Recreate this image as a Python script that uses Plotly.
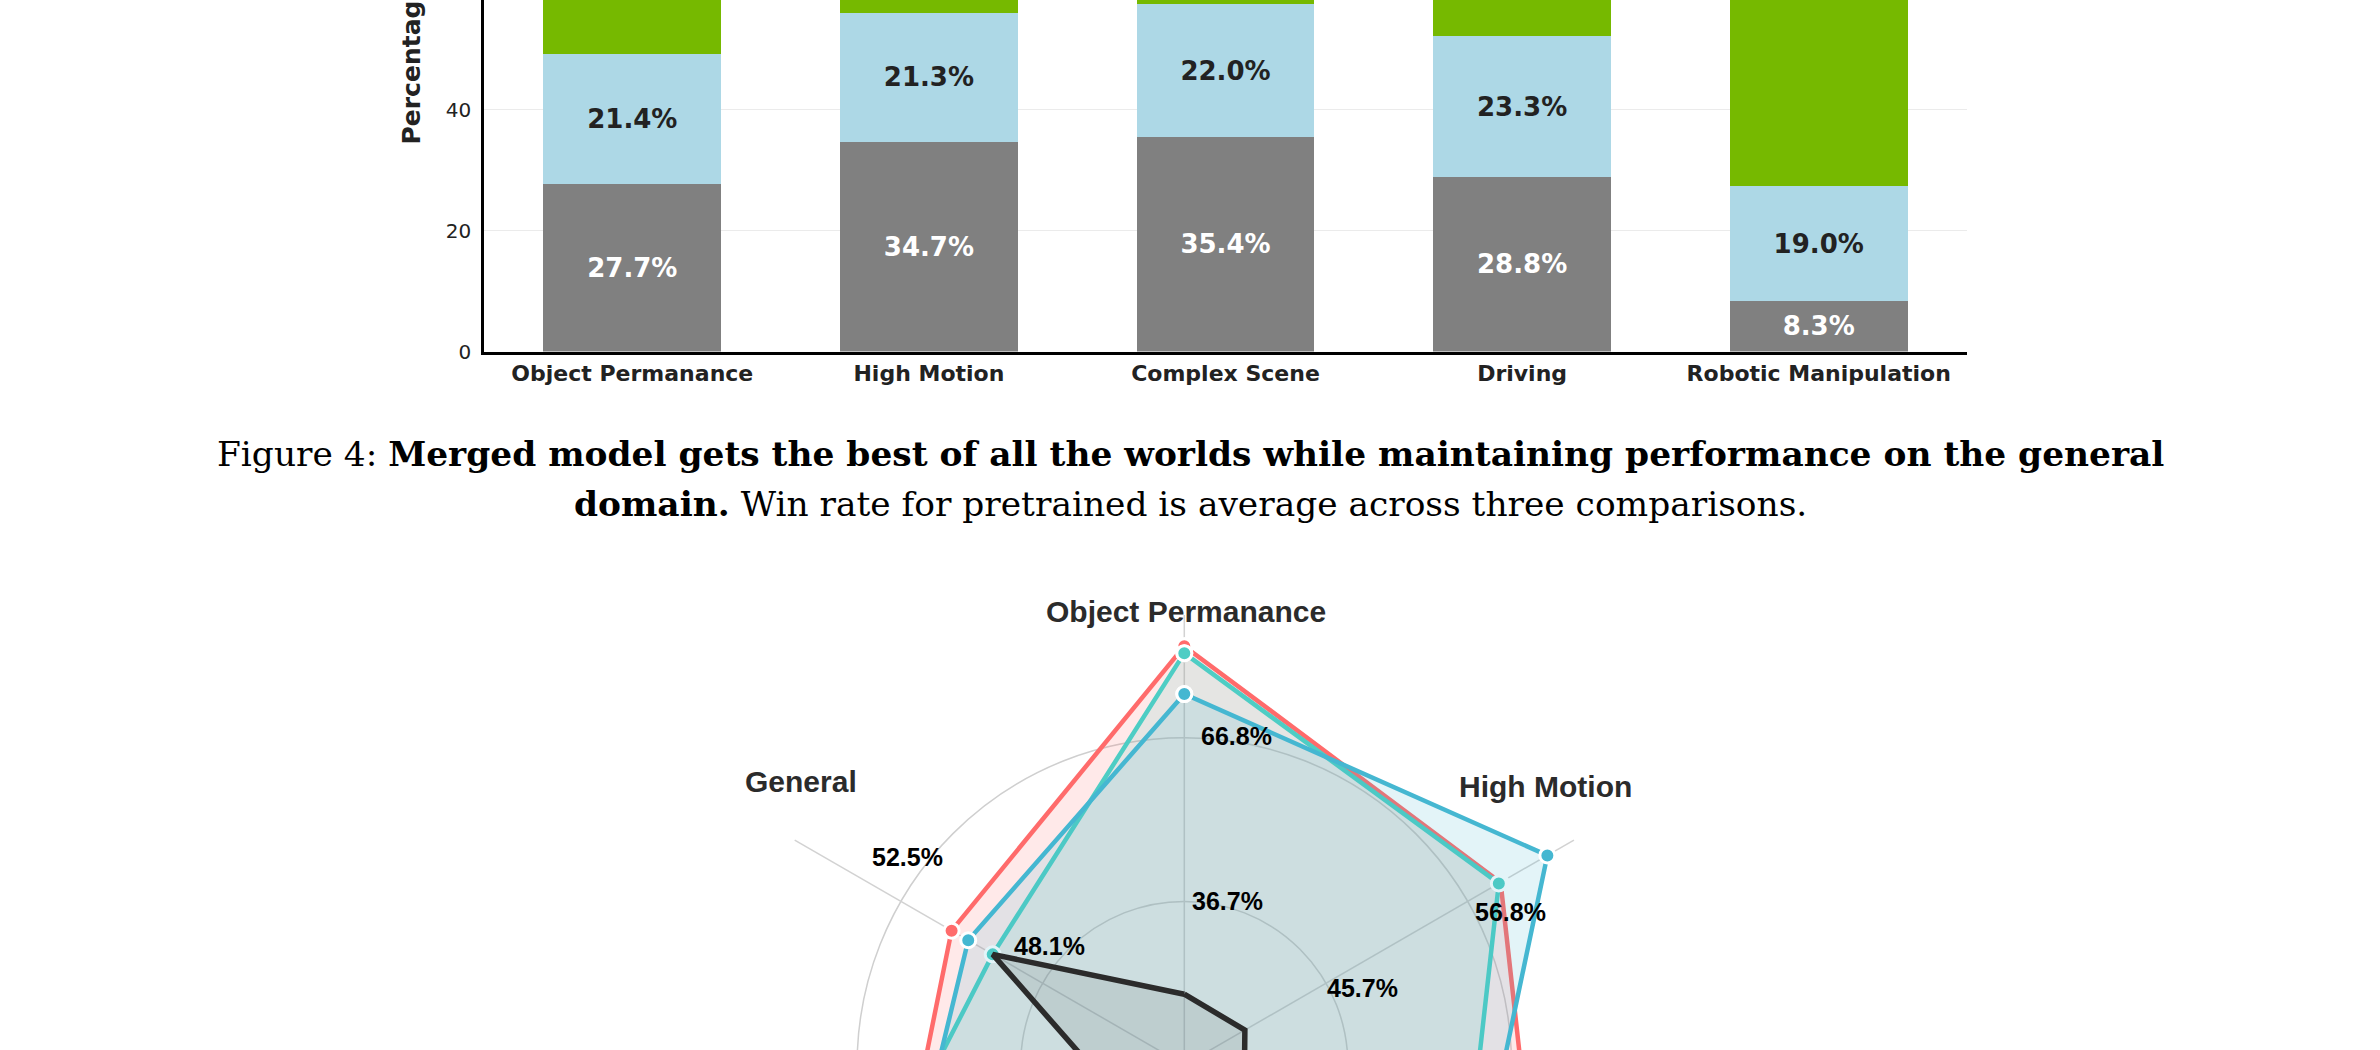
import numpy as np
import plotly.graph_objects as go

W = 2380
H_FIG = 1050

# ---------------- bar chart data ----------------
bar_categories = ["Object Permanance", "High Motion", "Complex Scene", "Driving", "Robotic Manipulation"]
loss_pct = [27.7, 34.7, 35.4, 28.8, 8.3]      # gray segment
tie_pct = [21.4, 21.3, 22.0, 23.3, 19.0]      # light-blue segment
win_pct = [50.9, 44.0, 42.6, 47.9, 72.7]      # green segment
bar_tickvals = [0, 20, 40, 60, 80, 100]

# ---------------- radar chart data ----------------
radar_categories = ["Object Permanance", "High Motion", "Complex Scene",
                    "Driving", "Robotic Manipulation", "General"]
merged_scores = [1.024, 0.893, 1.015, 0.95, 0.831, 0.657]
specialist_a_scores = [1.007, 0.888, 0.780, 0.90, 0.998, 0.541]
specialist_b_scores = [0.907, 1.025, 0.803, 0.85, 0.808, 0.610]
pretrained_scores = [0.173, 0.171, 0.169, 0.170, 0.177, 0.541]
ring_levels = [0.4, 0.8]
ring_label_categories = ["Object Permanance", "High Motion", "General"]
ring_inner_labels = ["36.7%", "45.7%", "48.1%"]
ring_outer_labels = ["66.8%", "56.8%", "52.5%"]

caption_line1 = "Figure 4: <b>Merged model gets the best of all the worlds while maintaining performance on the general</b>"
caption_line2 = "<b>domain.</b> Win rate for pretrained is average across three comparisons."

# ---------------- layout constants (pixels from top-left) ----------------
BAR_LEFT, BAR_RIGHT, BAR_BOTTOM = 484, 1967, 351.5
BAR_PX_PER_UNIT = 6.05
CX, CY, SCALE = 1184.3, 1065.0, 409.0       # radar centre (px) and px per unit
RADAR_TOP_PX = 472.5
AXIS_EXTENT = 1.1


def py(p):
    return 1 - p / H_FIG


fig = go.Figure()

# ---- stacked bars ----
seg_specs = [
    (loss_pct, "#808080", "white", True),
    (tie_pct, "#ADD8E6", "#222222", True),
    (win_pct, "#76B900", "white", False),
]
for vals, col, tcol, lab in seg_specs:
    fig.add_trace(go.Bar(
        x=bar_categories, y=vals, marker=dict(color=col, line=dict(width=0)),
        width=0.6, text=[f"{v:.1f}%" for v in vals] if lab else None,
        textposition="inside" if lab else "none",
        insidetextanchor="middle", textangle=0,
        textfont=dict(family="DejaVu Sans", size=26, color=tcol, weight="bold"),
        showlegend=False, hoverinfo="skip", xaxis="x", yaxis="y"))

# ---- radar ----
n = len(radar_categories)
theta = np.deg2rad(90 - 360.0 / n * np.arange(n))


def to_xy(r):
    r = np.asarray(r, dtype=float)
    x = r * np.cos(theta)
    y = r * np.sin(theta)
    return np.append(x, x[0]), np.append(y, y[0])


def rgba(hexcol, a):
    h = hexcol.lstrip("#")
    return f"rgba({int(h[0:2],16)},{int(h[2:4],16)},{int(h[4:6],16)},{a})"


series = [
    ("Merged", merged_scores, "#FF6B6B", 4.5, True, 0.15),
    ("Specialist A", specialist_a_scores, "#4ECDC4", 4.5, True, 0.15),
    ("Specialist B", specialist_b_scores, "#45B7D1", 4.5, True, 0.15),
    ("Pretrained", pretrained_scores, "#2B2B2B", 5.5, False, 0.09),
]
for name, sc, col, lw, mk, alpha in series:
    x, y = to_xy(sc)
    fig.add_trace(go.Scatter(
        x=x, y=y, name=name, mode="lines+markers" if mk else "lines",
        fill="toself", fillcolor=rgba(col, alpha),
        line=dict(color=col, width=lw),
        marker=dict(size=15, color=col, line=dict(color="white", width=3)),
        showlegend=False, hoverinfo="skip", xaxis="x2", yaxis="y2"))

shapes = []
for lv in ring_levels:
    shapes.append(dict(type="circle", xref="x2", yref="y2", x0=-lv, x1=lv, y0=-lv, y1=lv,
                       line=dict(color="#cfcfcf", width=1.5), layer="below"))
for t in theta:
    shapes.append(dict(type="line", xref="x2", yref="y2", x0=0, y0=0,
                       x1=AXIS_EXTENT * np.cos(t), y1=AXIS_EXTENT * np.sin(t),
                       line=dict(color="#d2d2d2", width=1.5), layer="below"))

annotations = []
# category labels of the radar (label centres in px)
radar_label_px = {"Object Permanance": (1186, 611), "High Motion": (1545, 786), "General": (801, 781)}
for cat, (px, pyy) in radar_label_px.items():
    annotations.append(dict(xref="x2", yref="y2", x=(px - CX) / SCALE, y=(CY - pyy) / SCALE,
                            text=f"<b>{cat}</b>", showarrow=False, xanchor="center", yanchor="middle",
                            font=dict(family="Liberation Sans", size=30, color="#2b2b2b")))
# ring value labels per axis (pixel shifts from the ring point on the axis)
inner_shift = {"Object Permanance": (43, 0), "High Motion": (37, -5), "General": (7, 37)}
outer_shift = {"Object Permanance": (52, 2), "High Motion": (43, -11), "General": (7, 44)}
for cat, lab_in, lab_out in zip(ring_label_categories, ring_inner_labels, ring_outer_labels):
    t = theta[radar_categories.index(cat)]
    for lv, lab, shifts in ((ring_levels[0], lab_in, inner_shift), (ring_levels[1], lab_out, outer_shift)):
        dx, dy = shifts[cat]
        annotations.append(dict(xref="x2", yref="y2", x=lv * np.cos(t), y=lv * np.sin(t),
                                xshift=dx, yshift=dy, text=f"<b>{lab}</b>", showarrow=False,
                                xanchor="center", yanchor="middle",
                                font=dict(family="Liberation Sans", size=25, color="#000000")))

# y-axis title of bar chart
annotations.append(dict(xref="paper", yref="paper", x=411 / W, y=py(147),
                        text="<b>Percentage</b>", textangle=-90, showarrow=False,
                        xanchor="center", yanchor="bottom",
                        font=dict(family="DejaVu Sans", size=25, color="#222222")))
# caption
annotations.append(dict(xref="paper", yref="paper", x=0.5, y=py(454), text=caption_line1,
                        showarrow=False, xanchor="center", yanchor="middle",
                        font=dict(family="DejaVu Serif", size=34.4, color="black")))
annotations.append(dict(xref="paper", yref="paper", x=0.5, y=py(504), text=caption_line2,
                        showarrow=False, xanchor="center", yanchor="middle",
                        font=dict(family="DejaVu Serif", size=34.4, color="black")))

fig.update_layout(
    width=W, height=H_FIG, margin=dict(l=0, r=0, t=0, b=0, pad=0, autoexpand=False),
    paper_bgcolor="white", plot_bgcolor="rgba(0,0,0,0)",
    barmode="stack",
    xaxis=dict(domain=[BAR_LEFT / W, BAR_RIGHT / W], range=[-0.5, 4.5], automargin=False,
               showline=True, linecolor="black", linewidth=2.5, ticks="",
               showgrid=False, zeroline=False,
               tickfont=dict(family="DejaVu Sans", size=22, color="#222222", weight="bold")),
    yaxis=dict(domain=[py(BAR_BOTTOM), 1], range=[0, BAR_BOTTOM / BAR_PX_PER_UNIT], automargin=False,
               tickvals=bar_tickvals, showline=True, linecolor="black", linewidth=2.5,
               ticks="", showgrid=True, gridcolor="#ebebeb", gridwidth=1, zeroline=False,
               ticklabelstandoff=6,
               tickfont=dict(family="DejaVu Sans", size=20, color="#222222")),
    xaxis2=dict(domain=[0, 1], range=[-CX / SCALE, (W - CX) / SCALE], visible=False,
                automargin=False, showgrid=False, zeroline=False),
    yaxis2=dict(domain=[0, py(RADAR_TOP_PX)],
                range=[(CY - H_FIG) / SCALE, (CY - RADAR_TOP_PX) / SCALE],
                visible=False, automargin=False, showgrid=False, zeroline=False),
    shapes=shapes, annotations=annotations,
)

fig.write_html("out.html")
